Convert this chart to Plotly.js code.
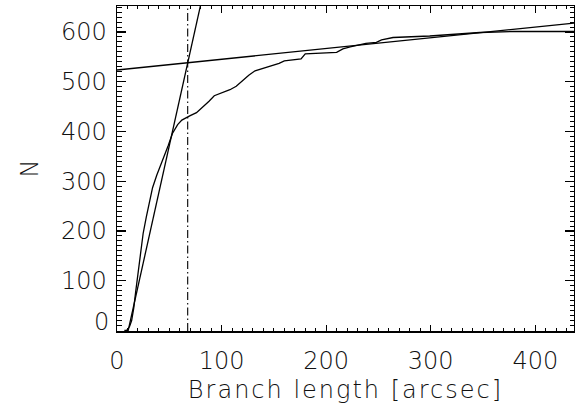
<!DOCTYPE html>
<html>
<head>
<meta charset="utf-8">
<script src="https://cdn.plot.ly/plotly-3.0.1.min.js"></script>
<style>
html,body{margin:0;padding:0;background:#fff;}
#chart{width:575px;height:416px;}
#chart .xtitle{letter-spacing:2px;}
</style>
</head>
<body>
<div id="chart"></div>
<script>
// Cumulative number of branches vs branch length
var branchLength = [7, 9, 10, 12, 14, 16, 18, 20, 22, 25, 28, 31, 34, 38, 42, 46, 49, 53, 58, 62, 66, 70, 76, 82, 88, 93, 100, 108, 114, 120, 126, 132, 143, 155, 160, 176, 180, 210, 216, 223, 238, 248, 253, 264, 299, 347, 379, 437];
var countN =       [0, 0, 2, 8, 20, 45, 80, 115, 150, 195, 228, 258, 287, 312, 333, 355, 372, 396, 414, 423, 428, 432, 438, 449, 461, 472, 478, 484, 491, 503, 513, 522, 529, 537, 542, 546, 556, 559, 566, 570, 577, 579, 584, 589, 592, 599, 601, 601];

// Linear fits (slope, intercept) and the x extent drawn
var fitSteep = [9.45, -101.1];
var fitShallow = [0.216, 523.6];
var fitX = [0, 437];
var breakX = 67.6;

var xRange = [0, 437];
var yRange = [-1, 652.3];
var xTicks = [0, 100, 200, 300, 400];
var yTicks = [0, 100, 200, 300, 400, 500, 600];
var yTickText = ['', '100', '200', '300', '400', '500', '600'];

function lineY(fit, xs) { return xs.map(function (x) { return fit[0] * x + fit[1]; }); }

var font = {family: '"DejaVu Sans ExtraLight", "DejaVu Sans Light", "DejaVu Sans", sans-serif', size: 24, color: '#111', weight: 200};
var black = '#000';

var traces = [
  {x: branchLength, y: countN, mode: 'lines', line: {color: black, width: 1.3}, hoverinfo: 'skip'},
  {x: fitX, y: lineY(fitSteep, fitX), mode: 'lines', line: {color: black, width: 1.3}, hoverinfo: 'skip'},
  {x: fitX, y: lineY(fitShallow, fitX), mode: 'lines', line: {color: black, width: 1.3}, hoverinfo: 'skip'},
  {x: [breakX, breakX], y: yRange, mode: 'lines', line: {color: black, width: 1.1, dash: '8px,3px,1.5px,3px'}, hoverinfo: 'skip'}
];

var layout = {
  width: 575, height: 416,
  margin: {l: 117, r: 1, t: 6, b: 85},
  paper_bgcolor: '#fff', plot_bgcolor: '#fff',
  showlegend: false,
  font: font,
  xaxis: {
    range: xRange, tickvals: xTicks, ticks: 'inside', ticklen: 6.5, tickwidth: 1.2, tickcolor: black,
    showline: true, linecolor: black, linewidth: 1.5, mirror: 'allticks', showgrid: false, zeroline: false,
    minor: {dtick: 10, ticks: 'inside', ticklen: 3.2, tickwidth: 1, tickcolor: black, showgrid: false},
    tickfont: font, ticklabelstandoff: 8,
    title: {text: 'Branch length [arcsec]', font: font, standoff: 7}
  },
  yaxis: {
    range: yRange, tickvals: yTicks, ticktext: yTickText, ticks: 'inside', ticklen: 9, tickwidth: 1.2, tickcolor: black,
    showline: true, linecolor: black, linewidth: 1.5, mirror: 'allticks', showgrid: false, zeroline: false,
    minor: {dtick: 10, ticks: 'inside', ticklen: 4.5, tickwidth: 1, tickcolor: black, showgrid: false},
    tickfont: font, ticklabelstandoff: 4,
    title: {text: 'N', font: font, standoff: 15}
  },
  annotations: [
    {text: '0', xref: 'paper', x: 0, yref: 'y', y: 18, xanchor: 'right', yanchor: 'middle', xshift: -6, showarrow: false, font: font}
  ]
};

Plotly.newPlot('chart', traces, layout, {staticPlot: true, displayModeBar: false});
</script>
</body>
</html>
